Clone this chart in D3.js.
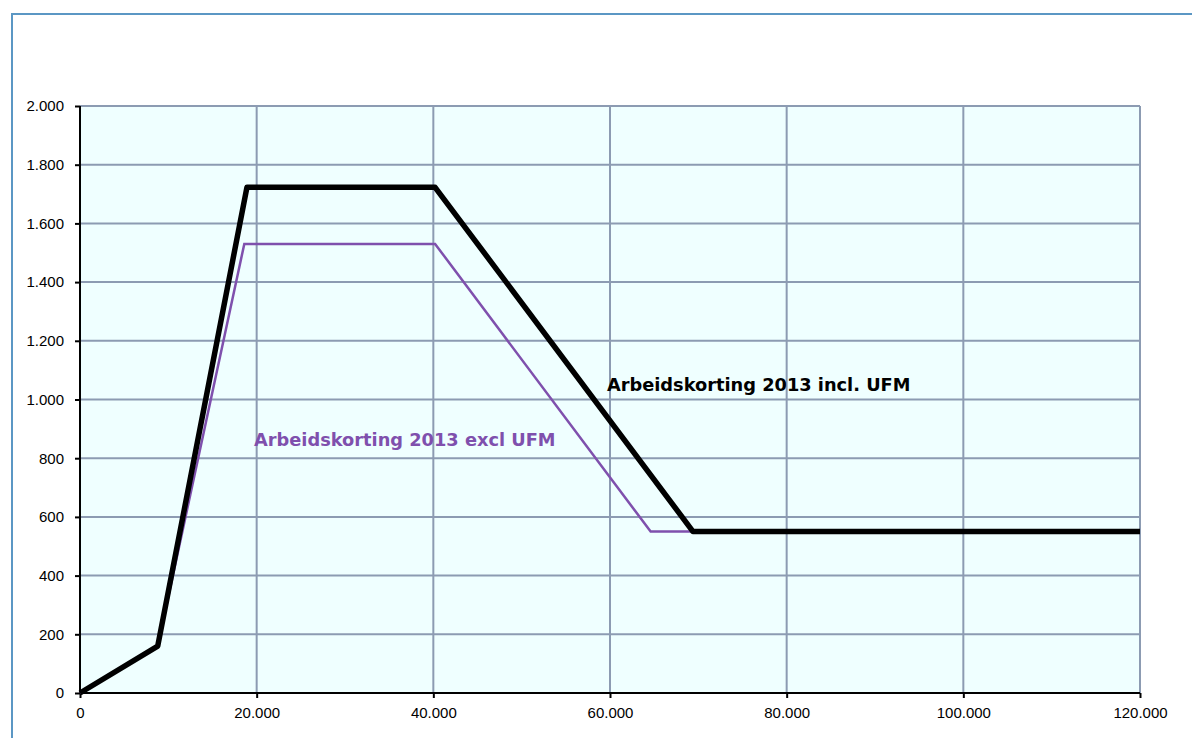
<!DOCTYPE html>
<html>
<head>
<meta charset="utf-8">
<script src="https://cdnjs.cloudflare.com/ajax/libs/d3/7.8.5/d3.min.js"></script>
<style>
	body { margin: 0; background: #fff; }
	svg { display: block; font-family: "Liberation Sans", Arial, sans-serif; }
	.grid line { stroke: #8c9bb2; stroke-width: 2; }
	.axis path, .axis line { stroke: #000; stroke-width: 2; }
	.axis text { font-size: 15px; fill: #000; font-family: "Liberation Sans", Arial, sans-serif; }
</style>
</head>
<body>
<script>
(function() {

	// data
	var inclX = [0, 8800, 18900, 40200, 69400, 120000];
	var inclY = [0, 160, 1723, 1723, 550, 550];
	var exclX = [0, 8800, 18600, 40200, 64600, 69400];
	var exclY = [0, 160, 1530, 1530, 550, 550];
	var xTicks = [0, 20000, 40000, 60000, 80000, 100000, 120000];
	var yTicks = [0, 200, 400, 600, 800, 1000, 1200, 1400, 1600, 1800, 2000];
	var seriesLabels = ["Arbeidskorting 2013 incl. UFM", "Arbeidskorting 2013 excl UFM"];

	var W = 1192, H = 738;
	var margin = { top: 106, right: 52, bottom: 45, left: 80 };
	var width = W - margin.left - margin.right;
	var height = H - margin.top - margin.bottom;

	var nl = d3.formatLocale({ decimal: ",", thousands: ".", grouping: [3], currency: ["€", ""] });
	var fmt = nl.format(",d");

	var svg = d3.select("body").append("svg")
		.attr("width", W)
		.attr("height", H);

	// outer chart border
	svg.append("rect")
		.attr("x", 12).attr("y", 14)
		.attr("width", W + 20).attr("height", H + 20)
		.attr("fill", "none")
		.attr("stroke", "#5b97c4")
		.attr("stroke-width", 2);

	var g = svg.append("g")
		.attr("transform", "translate(" + margin.left + "," + margin.top + ")");

	var x = d3.scaleLinear().domain([0, 120000]).range([0, width]);
	var y = d3.scaleLinear().domain([0, 2000]).range([height, 0]);

	// plot background
	g.append("rect")
		.attr("width", width).attr("height", height)
		.attr("fill", "#efffff");

	// gridlines
	var grid = g.append("g").attr("class", "grid");
	grid.selectAll(".gx").data(xTicks.slice(1)).enter().append("line")
		.attr("x1", function(d) { return x(d); })
		.attr("x2", function(d) { return x(d); })
		.attr("y1", 0).attr("y2", height);
	grid.selectAll(".gy").data(yTicks.slice(1)).enter().append("line")
		.attr("x1", 0).attr("x2", width)
		.attr("y1", function(d) { return y(d); })
		.attr("y2", function(d) { return y(d); });

	// axes
	var xAxis = d3.axisBottom(x).tickValues(xTicks).tickFormat(fmt).tickSize(5).tickPadding(9);
	var yAxis = d3.axisLeft(y).tickValues(yTicks).tickFormat(fmt).tickSize(5).tickPadding(11);

	g.append("g")
		.attr("class", "x axis")
		.attr("transform", "translate(0," + height + ")")
		.call(xAxis)
		.call(function(s) { s.select(".domain").attr("d", "M0,0H" + width); });

	g.append("g")
		.attr("class", "y axis")
		.call(yAxis)
		.call(function(s) { s.select(".domain").attr("d", "M0," + height + "V0"); });

	var line = d3.line()
		.x(function(d) { return x(d[0]); })
		.y(function(d) { return y(d[1]); });

	var excl = d3.zip(exclX, exclY);
	var incl = d3.zip(inclX, inclY);

	g.append("path")
		.datum(excl)
		.attr("d", line)
		.attr("fill", "none")
		.attr("stroke", "#7f50ad")
		.attr("stroke-width", 2.5);

	g.append("path")
		.datum(incl)
		.attr("d", line)
		.attr("fill", "none")
		.attr("stroke", "#000")
		.attr("stroke-width", 5.5)
		.attr("stroke-linejoin", "round");

	// series labels
	g.append("text")
		.attr("x", x(59650)).attr("y", y(1029))
		.attr("font-size", "17.8px").attr("font-weight", "bold")
		.attr("font-family", "Verdana, 'DejaVu Sans', sans-serif")
		.attr("fill", "#000")
		.text(seriesLabels[0]);

	g.append("text")
		.attr("x", x(19700)).attr("y", y(841))
		.attr("font-size", "17.8px").attr("font-weight", "bold")
		.attr("font-family", "Verdana, 'DejaVu Sans', sans-serif")
		.attr("fill", "#7f50ad")
		.text(seriesLabels[1]);

})();
</script>
</body>
</html>
